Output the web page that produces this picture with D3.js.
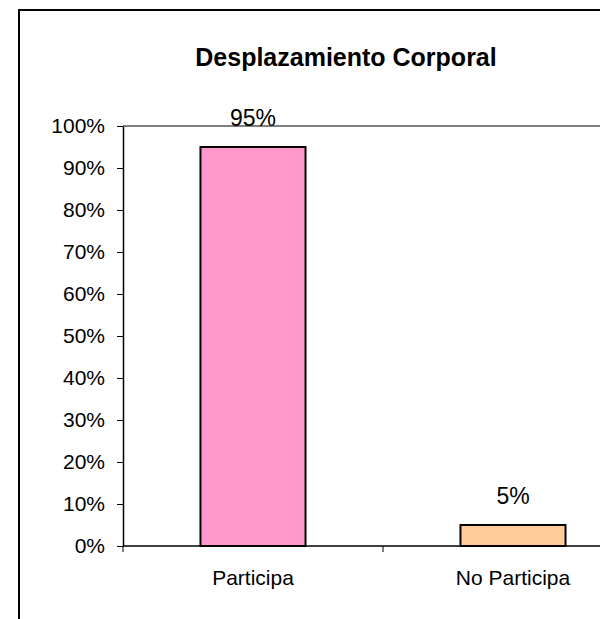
<!DOCTYPE html>
<html>
<head>
<meta charset="utf-8">
<script src="https://cdn.jsdelivr.net/npm/d3@7"></script>
<style>
  body { margin: 0; background: #fff; }
  svg { display: block; font-family: Arial, "Liberation Sans", sans-serif; }
</style>
</head>
<body>
<div id="chart"></div>
<script>
// Datos del gráfico
const categorias = ["Participa", "No Participa"];
const valores = [0.95, 0.05];
const colores = ["#ff99cc", "#ffcc99"];
const ticksY = [0, 0.1, 0.2, 0.3, 0.4, 0.5, 0.6, 0.7, 0.8, 0.9, 1.0];
const titulo = "Desplazamiento Corporal";

const width = 600;
const height = 619;
// el área de trazado sigue más allá del borde derecho (recortada, como en el original)
const plot = { left: 123, top: 126, right: 643, bottom: 546 };

const svg = d3.select("#chart")
    .append("svg")
    .attr("width", width)
    .attr("height", height);

// Marco exterior del gráfico
svg.append("rect")
    .attr("x", 19)
    .attr("y", 10)
    .attr("width", 700)
    .attr("height", 700)
    .attr("fill", "none")
    .attr("stroke", "#000")
    .attr("stroke-width", 2);

// Escalas
const x = d3.scaleBand()
    .domain(categorias)
    .range([plot.left, plot.right])
    .paddingInner(0.596)
    .paddingOuter(0.298);

const y = d3.scaleLinear()
    .domain([0, 1])
    .range([plot.bottom, plot.top]);

// Borde superior del área de trazado
svg.append("line")
    .attr("x1", plot.left)
    .attr("x2", plot.right)
    .attr("y1", y(1))
    .attr("y2", y(1))
    .attr("stroke", "#808080")
    .attr("stroke-width", 2);

// Título
svg.append("text")
    .attr("x", 346)
    .attr("y", 66)
    .attr("text-anchor", "middle")
    .style("font-size", "25px")
    .style("font-weight", "bold")
    .text(titulo);

// Eje Y
const ejeY = svg.append("g")
    .attr("transform", `translate(${plot.left},0)`)
    .call(d3.axisLeft(y).tickValues(ticksY).tickFormat(d3.format(".0%")).tickSize(6).tickSizeOuter(0).tickPadding(12));
ejeY.select(".domain").attr("stroke", "#000").attr("stroke-width", 1.5);
ejeY.selectAll(".tick line").attr("stroke", "#000");
ejeY.selectAll("text")
    .attr("fill", "#000")
    .style("font-size", "21px");

// Eje X (marcas entre categorías)
const limites = categorias.map(d => x(d) + x.bandwidth() / 2 - x.step() / 2).concat([plot.right]);
const ejeX = svg.append("g")
    .attr("transform", `translate(0,${plot.bottom})`);
ejeX.append("line")
    .attr("x1", plot.left)
    .attr("x2", plot.right)
    .attr("stroke", "#000")
    .attr("stroke-width", 1.5);
ejeX.selectAll(".marca")
    .data(limites)
    .enter()
    .append("line")
    .attr("class", "marca")
    .attr("x1", d => d)
    .attr("x2", d => d)
    .attr("y1", 0)
    .attr("y2", 6)
    .attr("stroke", "#000");
ejeX.selectAll(".etiqueta")
    .data(categorias)
    .enter()
    .append("text")
    .attr("class", "etiqueta")
    .attr("x", d => x(d) + x.bandwidth() / 2)
    .attr("y", 39)
    .attr("text-anchor", "middle")
    .style("font-size", "21px")
    .text(d => d);

// Barras
svg.selectAll(".barra")
    .data(valores)
    .enter()
    .append("rect")
    .attr("class", "barra")
    .attr("x", (d, i) => x(categorias[i]))
    .attr("width", x.bandwidth())
    .attr("y", d => y(d))
    .attr("height", d => y(0) - y(d))
    .attr("fill", (d, i) => colores[i])
    .attr("stroke", "#000")
    .attr("stroke-width", 2);

// Valores encima de las barras
svg.selectAll(".valor")
    .data(valores)
    .enter()
    .append("text")
    .attr("class", "valor")
    .attr("x", (d, i) => x(categorias[i]) + x.bandwidth() / 2)
    .attr("y", d => y(d) - 21)
    .attr("text-anchor", "middle")
    .style("font-size", "23px")
    .text(d => d3.format(".0%")(d));
</script>
</body>
</html>
